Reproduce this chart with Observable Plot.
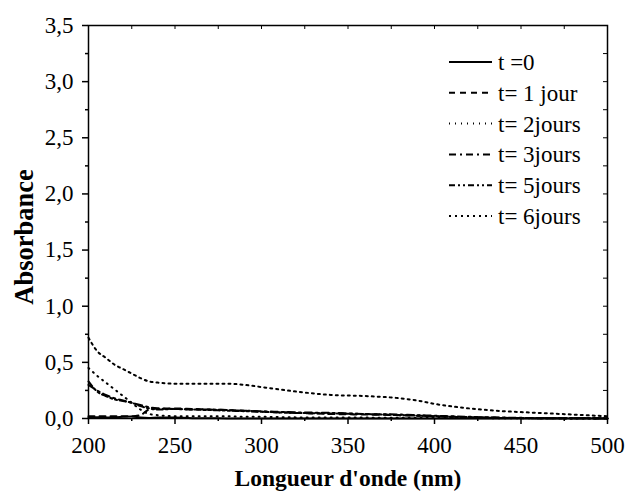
<!DOCTYPE html>
<html><head><meta charset="utf-8">
<script src="https://cdn.jsdelivr.net/npm/d3@7"></script>
<script src="https://cdn.jsdelivr.net/npm/@observablehq/plot@0.6"></script>
<style>
body{margin:0;background:#fff;}
#chart svg text{font-family:"Liberation Serif","Times New Roman",serif !important;}
</style>
</head><body><div id="chart"></div>
<script>
// ---- data ----
const wavelength = [200,205,210,215,220,225,230,235,240,250,260,270,280,290,300,320,340,360,380,390,400,420,440,460,480,500];
const t0     = [0.010,0.012,0.010,0.010,0.015,0.018,0.008,0.005,0.010,0.008,0.003,0.002,0.001,0,0,0,0,0,0,0,0,0,0,0,0,0];
const t1jour = [0.020,0.020,0.020,0.020,0.020,0.020,0.030,0.080,0.090,0.090,0.085,0.080,0.075,0.070,0.060,0.050,0.040,0.035,0.030,0.025,0.020,0.012,0.006,0.003,0.002,0.001];
const t2jours= [0.450,0.380,0.320,0.260,0.200,0.140,0.080,0.040,0.030,0.020,0.020,0.020,0.020,0.015,0.015,0.010,0.010,0.008,0.006,0.005,0.005,0.004,0.003,0.002,0.001,0.001];
const t3jours= [0.300,0.250,0.210,0.180,0.160,0.140,0.120,0.100,0.090,0.085,0.080,0.080,0.075,0.070,0.065,0.055,0.050,0.040,0.035,0.030,0.025,0.015,0.008,0.004,0.002,0.001];
const t5jours= [0.330,0.240,0.200,0.170,0.155,0.140,0.110,0.090,0.080,0.085,0.080,0.075,0.070,0.065,0.060,0.050,0.045,0.040,0.030,0.025,0.020,0.010,0.005,0.003,0.002,0.000];
const t6jours= [0.720,0.600,0.540,0.480,0.440,0.400,0.360,0.330,0.320,0.310,0.310,0.310,0.310,0.300,0.280,0.240,0.210,0.200,0.180,0.160,0.130,0.090,0.065,0.050,0.035,0.020];

const seriesNames = ["t =0","t= 1 jour","t= 2jours","t= 3jours","t= 5jours","t= 6jours"];
const seriesValues = [t0,t1jour,t2jours,t3jours,t5jours,t6jours];

const xTicks = [200,250,300,350,400,450,500];
const xMinorTicks = [225,275,325,375,425,475];
const yTicks = [0,0.5,1.0,1.5,2.0,2.5,3.0,3.5];
const yMinorTicks = [0.25,0.75,1.25,1.75,2.25,2.75,3.25];
const xLabel = "Longueur d'onde (nm)";
const yLabel = "Absorbance";

// ---- styles ----
const serif = '"Liberation Serif","Times New Roman",serif';
const dashes = ["none","6,5","1,5","7,4,2,4","6,3,2,3,2,3","2,4"];
const W = 627, H = 494, mL = 88, mR = 20, mT = 25, mB = 76;
const plotW = W - mL - mR, plotH = H - mT - mB;
const fmt = d => d.toFixed(1).replace(".", ",");

const rows = [];
seriesNames.forEach((s, i) => wavelength.forEach((w, j) => rows.push({series: s, idx: i, x: w, y: seriesValues[i][j]})));

const marks = [
  Plot.frame({stroke: "black", strokeWidth: 1.5}),
  Plot.axisX({ticks: xTicks, tickSize: 6, tickPadding: 12, tickFormat: d => String(d), fontSize: 23, label: null, strokeWidth: 1.5}),
  Plot.axisX({ticks: xMinorTicks, tickSize: 3, text: null, label: null, strokeWidth: 1.5}),
  Plot.axisY({ticks: yTicks, tickSize: 6, tickPadding: 9, tickFormat: fmt, fontSize: 23, label: null, strokeWidth: 1.5}),
  Plot.axisY({ticks: yMinorTicks, tickSize: 3, text: null, label: null, strokeWidth: 1.5}),
  Plot.tickX(xTicks.concat(xMinorTicks), {x: d => d, insetBottom: plotH - 4, strokeWidth: 1}),
  Plot.tickY(yTicks.concat(yMinorTicks), {y: d => d, insetLeft: plotW - 4, strokeWidth: 1}),
  Plot.text([xLabel], {text: d => d, frameAnchor: "bottom", textAnchor: "middle", dy: 67, fontSize: 23.5, fontWeight: "bold", fill: "black", fontFamily: serif}),
  Plot.text([yLabel], {text: d => d, frameAnchor: "left", textAnchor: "middle", rotate: -90, dx: -64, dy: 15, fontSize: 26.5, fontWeight: "bold", fill: "black", fontFamily: serif})
];
seriesNames.forEach((s, i) => {
  marks.push(Plot.line(rows.filter(r => r.idx === i), {x: "x", y: "y", stroke: "black", strokeWidth: 2, strokeDasharray: dashes[i], curve: "monotone-x"}));
});

const chart = Plot.plot({
  width: W, height: H,
  marginLeft: mL, marginRight: mR, marginTop: mT, marginBottom: mB,
  style: {background: "white", color: "black", fontFamily: serif, fontSize: "23px"},
  x: {domain: [200, 500]},
  y: {domain: [0, 3.5]},
  marks
});
document.getElementById("chart").appendChild(chart);

// ---- legend inside the frame ----
const svg = d3.select(chart);
const lg = svg.append("g").attr("class", "legend").attr("text-anchor", "start");
seriesNames.forEach((s, i) => {
  const y = 62 + i * 30.8;
  lg.append("line").attr("x1", 449).attr("x2", 492).attr("y1", y).attr("y2", y)
    .attr("stroke", "black").attr("stroke-width", 2).attr("stroke-dasharray", dashes[i]);
  lg.append("text").attr("x", 498).attr("y", y).attr("dy", "0.35em")
    .attr("text-anchor", "start").attr("font-family", serif)
    .style("font-size", "23px")
    .attr("fill", "black").text(s);
});
</script>
</body></html>
